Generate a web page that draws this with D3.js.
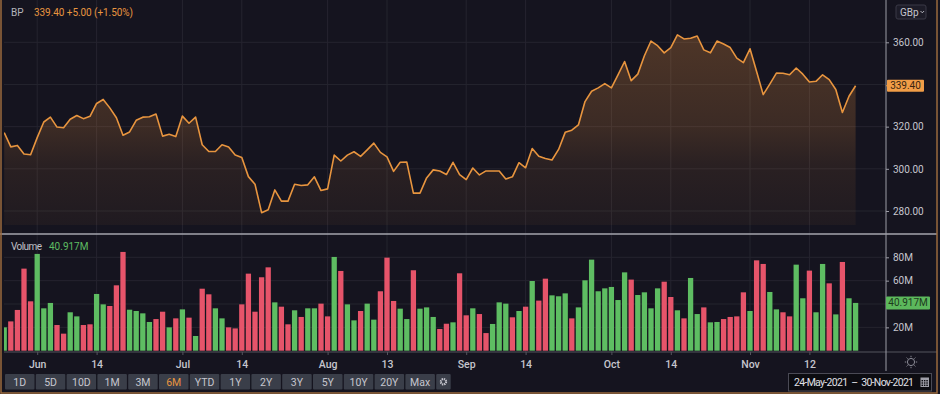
<!DOCTYPE html>
<html>
<head>
<meta charset="utf-8">
<script src="https://cdn.jsdelivr.net/npm/d3@7"></script>
<style>
html, body { margin: 0; padding: 0; background: #15141f; }
svg { display: block; font-family: Roboto, "Noto Sans", sans-serif; }
</style>
</head>
<body>
<svg width="940" height="394"></svg>
<script>
// daily closes (GBp), 24-May-2021 .. 23-Nov-2021
var closes = [
  317.2, 310.4, 311.1, 307.0, 306.7, 314.8, 322.2, 324.5, 319.8, 319.5,
  323.5, 325.3, 323.8, 324.9, 331.0, 332.9, 328.9, 324.2, 315.9, 317.5,
  323.0, 324.5, 324.7, 326.0, 315.5, 316.4, 315.3, 325.0, 321.6, 324.5,
  311.4, 308.2, 308.2, 311.4, 310.4, 306.5, 305.4, 296.3, 292.7, 279.2,
  280.6, 290.0, 284.7, 284.7, 292.7, 292.1, 292.4, 296.2, 289.7, 290.5,
  306.5, 303.7, 306.5, 308.1, 305.9, 309.0, 312.2, 307.8, 305.7, 298.8,
  303.1, 303.2, 288.5, 288.5, 295.7, 299.5, 299.0, 297.3, 303.1, 297.3,
  294.9, 300.4, 297.1, 299.0, 299.0, 299.0, 295.2, 296.2, 302.9, 300.5,
  309.6, 306.0, 304.9, 304.2, 309.2, 317.3, 318.3, 320.8, 331.9, 336.8,
  338.4, 340.4, 338.4, 344.6, 350.9, 341.8, 344.9, 353.6, 360.6, 358.4,
  355.0, 357.5, 363.5, 361.6, 361.9, 363.0, 356.4, 355.0, 360.6, 359.2,
  357.5, 352.5, 350.4, 356.9, 346.2, 335.2, 340.2, 345.4, 345.3, 344.6,
  347.8, 344.9, 341.2, 341.5, 344.6, 342.3, 337.6, 326.7, 334.4, 339.4
];

// daily volume, millions
var volumes = [
  20.0, 25.1, 34.9, 70.3, 42.3, 82.9, 36.3, 40.9, 22.0, 14.6,
  32.9, 29.4, 22.0, 22.6, 48.6, 39.7, 38.3, 56.0, 84.6, 35.1,
  34.0, 32.0, 24.6, 27.1, 33.4, 20.0, 27.7, 35.4, 28.3, 12.6,
  53.1, 48.3, 36.3, 27.7, 20.0, 19.1, 39.7, 66.0, 33.4, 62.9,
  71.4, 41.4, 37.7, 22.6, 34.6, 28.9, 36.3, 36.3, 40.3, 29.4,
  80.3, 68.3, 39.7, 26.0, 34.0, 40.3, 26.6, 50.9, 79.7, 42.6,
  36.0, 27.1, 68.9, 36.0, 37.1, 28.9, 18.6, 23.1, 24.3, 66.3,
  30.3, 36.3, 31.4, 15.1, 22.9, 41.4, 40.3, 28.6, 34.0, 37.7,
  59.7, 42.9, 61.7, 47.4, 46.6, 49.1, 27.7, 37.1, 60.3, 78.0,
  50.9, 53.4, 54.6, 43.4, 67.1, 60.9, 47.7, 50.0, 36.3, 53.4,
  59.1, 46.0, 34.6, 27.7, 62.3, 31.4, 37.1, 24.3, 24.6, 27.1,
  28.9, 29.4, 50.0, 34.0, 77.4, 74.3, 50.3, 35.4, 32.9, 29.4,
  73.7, 44.9, 68.6, 32.9, 74.3, 57.7, 31.1, 76.0, 44.9, 40.917
];

// G = up day, R = down day (bar colour)
var upDown = ("GRRRRGGGRR" + "GGRRGGRRRG" + "GGGRRGRGRG" + "RRGGRRRRRR" +
              "RGRRGRGGRR" + "GRGGRGGRRR" + "GGRGGGRRGR" + "RGRRGGGRGR" +
              "GRRGGGRGGG" + "GGGGGRGGGG" + "RRGRGGRGGR" + "RRRGRRGGRR" +
              "GGRGGRGRGG").split("");

var holidays = ["2021-05-31", "2021-08-30"];
var tickDates = ["2021-06-01", "2021-06-14", "2021-07-01", "2021-07-14", "2021-08-02", "2021-08-13",
                 "2021-09-01", "2021-09-14", "2021-10-01", "2021-10-14", "2021-11-01", "2021-11-12"];
var tickLabels = ["Jun", "14", "Jul", "14", "Aug", "13", "Sep", "14", "Oct", "14", "Nov", "12"];
var priceGrid = [280, 300, 320, 340, 360];
var priceLabels = [280, 300, 320, 360];
var volumeGrid = [20, 40, 60, 80];
var volumeLabels = [20, 60, 80];
var ranges = ["1D", "5D", "10D", "1M", "3M", "6M", "YTD", "1Y", "2Y", "3Y", "5Y", "10Y", "20Y", "Max"];

var svg = d3.select("svg");
var fmt = d3.timeFormat("%Y-%m-%d");

// trading days of the whole window (weekdays, minus UK bank holidays)
var days = d3.timeDay.range(new Date(2021, 4, 24), new Date(2021, 11, 1))
    .filter(function(d) { return d.getDay() != 0 && d.getDay() != 6 && holidays.indexOf(fmt(d)) < 0; })
    .map(fmt);

var x = d3.scalePoint().domain(days).range([4.2, 4.2 + 6.6 * (days.length - 1)]);
var barW = x.step() * 0.8;
var yP = d3.scaleLinear().domain([280, 360]).range([211, 42.3]);
var yV = d3.scaleLinear().domain([0, 80]).range([350.7, 257.3]);

var grid = "#25242f";
var axisCol = "#9c9ca6";
var txt = "#c6c6ce";
var orange = "#e8953f";
var green = "#5ebd62";
var red = "#e6546a";

var defs = svg.append("defs");
defs.append("clipPath").attr("id", "plot")
  .append("rect").attr("x", 4).attr("y", 0).attr("width", 882).attr("height", 352);

var grad = defs.append("linearGradient").attr("id", "fade")
    .attr("gradientUnits", "userSpaceOnUse")
    .attr("x1", 0).attr("x2", 0).attr("y1", 35).attr("y2", 225);
[[0, 0.27], [0.5, 0.18], [0.68, 0.1], [1, 0.05]].forEach(function(s) {
  grad.append("stop").attr("offset", s[0]).attr("stop-color", "#e8903e").attr("stop-opacity", s[1]);
});

// gridlines
var g = svg.append("g");
g.selectAll(".vg").data(tickDates).enter().append("line")
    .attr("x1", function(d) { return x(d); }).attr("x2", function(d) { return x(d); })
    .attr("y1", 0).attr("y2", 352)
    .attr("stroke", grid).attr("stroke-width", 1);
g.selectAll(".pg").data(priceGrid).enter().append("line")
    .attr("x1", 4).attr("x2", 886)
    .attr("y1", function(d) { return yP(d); }).attr("y2", function(d) { return yP(d); })
    .attr("stroke", grid);
g.selectAll(".vvg").data(volumeGrid).enter().append("line")
    .attr("x1", 4).attr("x2", 886)
    .attr("y1", function(d) { return yV(d); }).attr("y2", function(d) { return yV(d); })
    .attr("stroke", grid);

var plot = svg.append("g").attr("clip-path", "url(#plot)");

// price area + line
var idx = d3.range(closes.length);
plot.append("path")
    .datum(idx)
    .attr("fill", "url(#fade)")
    .attr("d", d3.area()
        .x(function(i) { return x(days[i]); })
        .y0(225)
        .y1(function(i) { return yP(closes[i]); }));
plot.append("path")
    .datum(idx)
    .attr("fill", "none")
    .attr("stroke", orange)
    .attr("stroke-width", 1.6)
    .attr("stroke-linejoin", "round")
    .attr("d", d3.line()
        .x(function(i) { return x(days[i]); })
        .y(function(i) { return yP(closes[i]); }));

// volume bars
plot.selectAll(".bar").data(idx).enter().append("rect")
    .attr("x", function(i) { return x(days[i]) - barW / 2; })
    .attr("y", function(i) { return yV(volumes[i]); })
    .attr("width", barW)
    .attr("height", function(i) { return yV(0) - yV(volumes[i]); })
    .attr("fill", function(i) { return upDown[i] == "G" ? green : red; });

// panel separators
svg.append("line").attr("x1", 0).attr("x2", 937).attr("y1", 234).attr("y2", 234)
    .attr("stroke", "#a4a4ae").attr("stroke-width", 1.6);
svg.append("line").attr("x1", 4).attr("x2", 937).attr("y1", 352).attr("y2", 352)
    .attr("stroke", "#54545e").attr("stroke-width", 1);
svg.append("line").attr("x1", 886).attr("x2", 886).attr("y1", 0).attr("y2", 371)
    .attr("stroke", axisCol).attr("stroke-width", 1);

// x axis
var xAxis = svg.append("g").attr("transform", "translate(0,352)")
    .call(d3.axisBottom(x).tickValues(tickDates).tickSize(3)
        .tickFormat(function(d) { return tickLabels[tickDates.indexOf(d)]; }));
xAxis.select(".domain").remove();
xAxis.selectAll("line").attr("stroke", "#54545e");
xAxis.selectAll("text").attr("fill", txt).attr("font-size", 10.5).attr("font-weight", 500)
    .attr("font-family", "Roboto, sans-serif").attr("dy", "0.95em");

// right axes
var pAxis = svg.append("g").attr("transform", "translate(886,0)")
    .call(d3.axisRight(yP).tickValues(priceLabels).tickSize(3).tickPadding(4)
        .tickFormat(d3.format(".2f")));
var vAxis = svg.append("g").attr("transform", "translate(886,0)")
    .call(d3.axisRight(yV).tickValues(volumeLabels).tickSize(3).tickPadding(4)
        .tickFormat(function(d) { return d + "M"; }));
[pAxis, vAxis].forEach(function(a) {
  a.select(".domain").remove();
  a.selectAll("line").attr("stroke", axisCol);
  a.selectAll("text").attr("fill", txt).attr("font-size", 10).attr("font-family", "Roboto, sans-serif");
});

// last value tags
var lastP = closes[closes.length - 1];
var lastV = volumes[volumes.length - 1];
svg.append("line").attr("x1", 886).attr("x2", 889).attr("y1", yP(lastP)).attr("y2", yP(lastP)).attr("stroke", orange);
svg.append("rect").attr("x", 887).attr("y", yP(lastP) - 6).attr("width", 37).attr("height", 12)
    .attr("fill", "#f19d47").attr("rx", 1);
svg.append("text").attr("x", 905.5).attr("y", yP(lastP)).attr("dy", "0.35em")
    .attr("text-anchor", "middle").attr("font-size", 10).attr("fill", "#3a2410")
    .text(d3.format(".2f")(lastP));
svg.append("rect").attr("x", 886).attr("y", yV(lastV) - 6.5).attr("width", 44).attr("height", 13)
    .attr("fill", "#5cb85c").attr("rx", 1);
svg.append("text").attr("x", 908).attr("y", yV(lastV)).attr("dy", "0.35em")
    .attr("text-anchor", "middle").attr("font-size", 10).attr("fill", "#1d3a1d")
    .text(d3.format(".3f")(lastV) + "M");

// legends
svg.append("text").attr("x", 11).attr("y", 16).attr("font-size", 10).attr("fill", "#b4b4bc").text("BP");
svg.append("text").attr("x", 34).attr("y", 16).attr("font-size", 10).attr("fill", orange)
    .attr("textLength", 99).text("339.40 +5.00 (+1.50%)");
svg.append("text").attr("x", 11).attr("y", 249.5).attr("font-size", 10).attr("fill", "#c0c0c8")
    .attr("textLength", 31).text("Volume");
svg.append("text").attr("x", 49).attr("y", 249.5).attr("font-size", 10).attr("fill", green)
    .text(d3.format(".3f")(lastV) + "M");

// currency button
svg.append("rect").attr("x", 896).attr("y", 5).attr("width", 30).attr("height", 14).attr("rx", 2)
    .attr("fill", "#1d1c28").attr("stroke", "#3a3946");
svg.append("text").attr("x", 900).attr("y", 15.5).attr("font-size", 10).attr("fill", txt).text("GBp");
svg.append("path").attr("d", "M920.5,11 l1.8,1.8 l1.8,-1.8").attr("fill", "none").attr("stroke", txt).attr("stroke-width", 0.9);

// crosshair sun icon
var sun = svg.append("g").attr("transform", "translate(911,362)")
    .attr("stroke", "#8a8a95").attr("fill", "none").attr("stroke-width", 1);
sun.append("circle").attr("r", 3.6);
sun.selectAll("line").data(d3.range(8)).enter().append("line")
    .attr("x1", function(d) { return 4.8 * Math.cos(d * Math.PI / 4); })
    .attr("y1", function(d) { return 4.8 * Math.sin(d * Math.PI / 4); })
    .attr("x2", function(d) { return 6.2 * Math.cos(d * Math.PI / 4); })
    .attr("y2", function(d) { return 6.2 * Math.sin(d * Math.PI / 4); });

// range buttons
var btn = svg.selectAll(".btn").data(ranges).enter().append("g")
    .attr("transform", function(d, i) { return "translate(" + (5 + i * 30.8) + ",374)"; });
btn.append("rect").attr("width", 29.5).attr("height", 15.5).attr("fill", "#3a3e49").attr("rx", 1);
btn.append("text").attr("x", 14.75).attr("y", 11.5).attr("text-anchor", "middle").attr("font-size", 10.5)
    .attr("fill", function(d) { return d == "6M" ? orange : txt; }).text(function(d) { return d; });
var gear = svg.append("g").attr("transform", "translate(436.2,374)");
gear.append("rect").attr("width", 14.5).attr("height", 15.5).attr("fill", "#3a3e49").attr("rx", 1);
gear.append("circle").attr("cx", 7.25).attr("cy", 7.75).attr("r", 2.6).attr("fill", "none")
    .attr("stroke", txt).attr("stroke-width", 2.2).attr("stroke-dasharray", "1.3,0.74");
gear.append("circle").attr("cx", 7.25).attr("cy", 7.75).attr("r", 1.2).attr("fill", "#3a3e49");

// date range box
svg.append("rect").attr("x", 788.5).attr("y", 373.5).attr("width", 143).attr("height", 17.5)
    .attr("fill", "#0c0c11").attr("stroke", "#4a4a55");
svg.append("text").attr("x", 794).attr("y", 386).attr("font-size", 10.5).attr("fill", "#e0e0e6")
    .attr("textLength", 120).attr("xml:space", "preserve").text("24-May-2021  –  30-Nov-2021");
var cal = svg.append("g").attr("transform", "translate(920.5,377.5)");
cal.append("rect").attr("width", 8.5).attr("height", 9.5).attr("fill", "#a0a0aa");
cal.selectAll(".c").data(d3.range(9)).enter().append("rect")
    .attr("x", function(d) { return 1 + (d % 3) * 2.4; })
    .attr("y", function(d) { return 2.5 + Math.floor(d / 3) * 2.3; })
    .attr("width", 1.5).attr("height", 1.4).attr("fill", "#0c0c11");

// window frame
svg.append("rect").attr("x", 1).attr("y", -2).attr("width", 936).attr("height", 395)
    .attr("fill", "none").attr("stroke", "#9a6a3e").attr("stroke-width", 1.5);
</script>
</body>
</html>
